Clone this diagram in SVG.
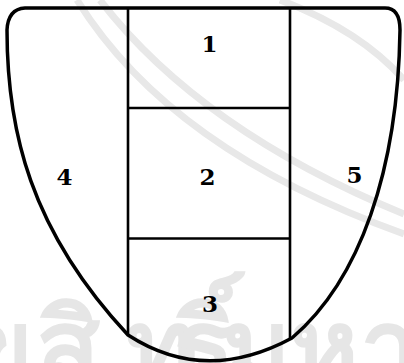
<svg xmlns="http://www.w3.org/2000/svg" width="404" height="363" viewBox="0 0 404 363">
  <style>
    .wm { fill: none; stroke: #e8e8e8; stroke-width: 7; }
    .wmt { fill: #e6e6e6; font-family: "Noto Sans", "DejaVu Sans", sans-serif; font-weight: bold; }
    .outline { fill: none; stroke: #000; stroke-width: 3.5; stroke-linejoin: round; }
    .div { fill: none; stroke: #000; stroke-width: 2.6; }
    .lbl { font-family: "DejaVu Serif", "Liberation Serif", serif; font-weight: bold; font-size: 23px; text-anchor: middle; fill: #000; }
  </style>
  <rect width="404" height="363" fill="#fff"/>
  <g id="watermark">
    <path class="wm" d="M77,0 Q170,150 404,234"/>
    <path class="wm" d="M100,0 Q200,130 404,214"/>
    <path class="wm" d="M280,0 Q360,30 404,80"/>
    <text class="wmt" font-size="105" y="384">
      <tspan x="-38">ข</tspan><tspan x="36">สิ</tspan><tspan x="126">ท</tspan><tspan x="172">ธิ์</tspan><tspan x="222">ม</tspan><tspan x="290">ห</tspan><tspan x="360">า</tspan>
    </text>
  </g>
  <g id="outline">
    <path class="outline" d="M25,8 L385,8 Q400,8 400,30 C398,170 360,280 292,338 Q205,385 128,335 C30,230 7,130 7,30 Q8,9 25,8 Z"/>
  </g>
  <g id="connectors">
    <line class="div" x1="128" y1="8" x2="128" y2="335"/>
    <line class="div" x1="290" y1="8" x2="290" y2="339"/>
    <line class="div" x1="128" y1="108" x2="290" y2="108"/>
    <line class="div" x1="128" y1="238.5" x2="290" y2="238.5"/>
  </g>
  <g id="node1"><text class="lbl" x="209.5" y="52">1</text></g>
  <g id="node2"><text class="lbl" x="207.5" y="185">2</text></g>
  <g id="node3"><text class="lbl" x="210" y="312">3</text></g>
  <g id="node4"><text class="lbl" x="64.5" y="185">4</text></g>
  <g id="node5"><text class="lbl" x="354.5" y="183">5</text></g>
</svg>
